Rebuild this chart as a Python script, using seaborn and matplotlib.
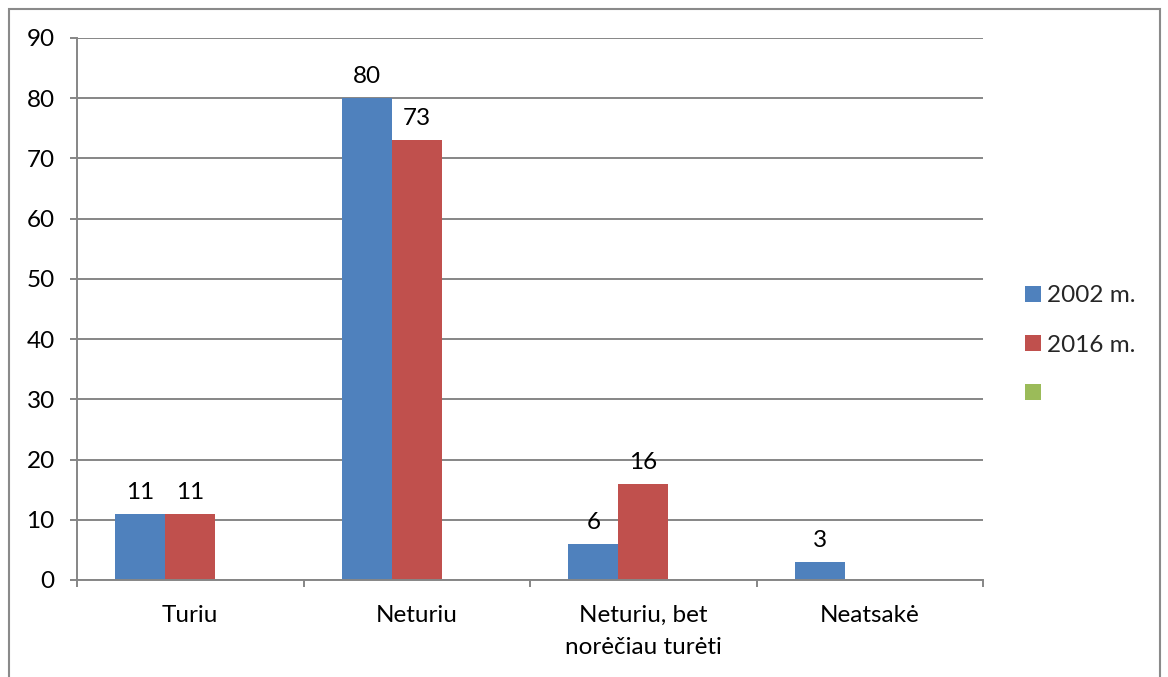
import numpy as np
import pandas as pd
import matplotlib
matplotlib.use("Agg")
import matplotlib.pyplot as plt
from matplotlib.patches import Patch, Rectangle
import seaborn as sns

categories = ["Turiu", "Neturiu", "Neturiu, bet\nnorėčiau turėti", "Neatsakė"]
series_names = ["2002 m.", "2016 m.", "Serija3"]
legend_labels = ["2002 m.", "2016 m.", " "]
values_2002 = [11, 80, 6, 3]
values_2016 = [11, 73, 16, np.nan]
values_s3 = [np.nan, np.nan, np.nan, np.nan]
colors = ["#4F81BD", "#C0504D", "#9BBB59"]
y_ticks = [0, 10, 20, 30, 40, 50, 60, 70, 80, 90]

rows = []
for s, vals in zip(series_names, [values_2002, values_2016, values_s3]):
    for c, v in zip(categories, vals):
        rows.append({"category": c, "series": s, "value": v})
df = pd.DataFrame(rows)

sns.set_style("white")
plt.rcParams["font.family"] = ["Lato", "DejaVu Sans"]
FS = 17.5

fig = plt.figure(figsize=(11.68, 6.77), dpi=100)
ax = fig.add_axes([77 / 1168, 1 - 580 / 677, (983 - 77) / 1168, (580 - 38) / 677])

sns.barplot(data=df, x="category", y="value", hue="series",
            order=categories, hue_order=series_names,
            palette=dict(zip(series_names, colors)),
            width=0.662, errorbar=None, ax=ax, legend=False,
            saturation=1, linewidth=0)

for cont in ax.containers:
    vals = [b.get_height() for b in cont]
    labels = ["" if (v is None or np.isnan(v)) else f"{v:.0f}" for v in vals]
    ax.bar_label(cont, labels=labels, padding=8, fontsize=FS, color="black")

ax.set_xlim(-0.5, 3.5)
ax.set_ylim(0, 90)
ax.set_yticks(y_ticks)
ax.set_xlabel("")
ax.set_ylabel("")

gray = "#868686"
ax.yaxis.grid(True, color=gray, linewidth=1.4)
ax.set_axisbelow(True)
for side in ["top", "right"]:
    ax.spines[side].set_visible(False)
for side in ["left", "bottom"]:
    ax.spines[side].set_color(gray)
    ax.spines[side].set_linewidth(1.4)

ax.tick_params(axis="y", which="major", length=5, width=1.4, color=gray,
               pad=11, labelsize=FS, labelcolor="black", left=True)
ax.set_xticks(np.arange(len(categories)))
ax.set_xticks(np.arange(-0.5, len(categories), 1.0), minor=True)
ax.tick_params(axis="x", which="major", length=0, pad=18, labelsize=FS,
               labelcolor="black")
ax.tick_params(axis="x", which="minor", length=5, width=1.4, color=gray,
               bottom=True)
for lbl in ax.get_xticklabels():
    lbl.set_linespacing(1.65)

handles = [Patch(facecolor=c, edgecolor="none") for c in colors]
fig.legend(handles, legend_labels, loc="center left",
           bbox_to_anchor=(1025 / 1168, 1 - 345 / 677),
           frameon=False, fontsize=FS, borderpad=0, borderaxespad=0,
           handlelength=0.64, handleheight=0.64, handletextpad=0.28,
           labelspacing=1.16)

fig.add_artist(Rectangle((9 / 1168, -0.05), (1160 - 9) / 1168, 1.05 - 9 / 677,
                         transform=fig.transFigure, fill=False,
                         edgecolor="#8a8a8a", linewidth=1.5))

fig.savefig("out.png", dpi=100)
